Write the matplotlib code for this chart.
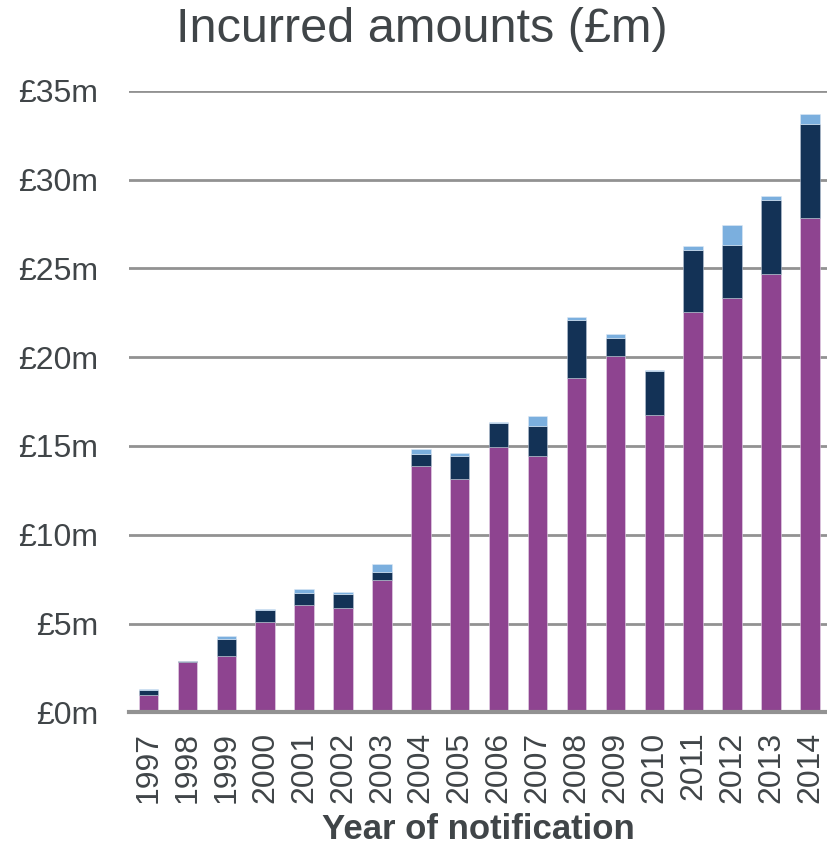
import matplotlib
matplotlib.use("Agg")
import matplotlib.pyplot as plt
import numpy as np

plt.rcParams['font.family'] = ['Liberation Sans', 'DejaVu Sans']

years = ['1997', '1998', '1999', '2000', '2001', '2002', '2003', '2004', '2005',
         '2006', '2007', '2008', '2009', '2010', '2011', '2012', '2013', '2014']
paid = [0.98, 2.85, 3.18, 5.11, 6.05, 5.90, 7.46, 13.86, 13.13,
        14.94, 14.42, 18.84, 20.07, 16.74, 22.55, 23.34, 24.70, 27.86]
outstanding = [0.28, 0.05, 0.97, 0.66, 0.66, 0.75, 0.44, 0.66, 1.31,
               1.37, 1.70, 3.27, 0.98, 2.47, 3.47, 2.96, 4.14, 5.26]
ibner = [0.04, 0.0, 0.15, 0.04, 0.21, 0.15, 0.46, 0.29, 0.15,
         0.06, 0.55, 0.15, 0.25, 0.08, 0.22, 1.15, 0.24, 0.58]
yticks = [0, 5, 10, 15, 20, 25, 30, 35]
ytick_labels = ['£0m', '£5m', '£10m', '£15m', '£20m', '£25m', '£30m', '£35m']

c_purple = '#8E4490'
c_navy = '#133256'
c_light = '#7BAFDE'
txt = '#404548'
grid = '#929292'

fig = plt.figure(figsize=(8.27, 8.46), dpi=100)
ax = fig.add_axes([129/827, (846-712.3)/846, 1 - 129/827, (712.3-90.7)/846])

x = np.arange(len(years))
w = 0.5
p = np.array(paid)
o = np.array(outstanding)
ib = np.array(ibner)
ax.bar(x, p, w, color=c_purple, edgecolor='#E8D8EA', linewidth=0.4, zorder=3)
ax.bar(x, o, w, bottom=p, color=c_navy, edgecolor='#B8C4D4', linewidth=0.4, zorder=3)
ax.bar(x, ib, w, bottom=p + o, color=c_light, edgecolor='#DDE9F5', linewidth=0.4, zorder=3)

ax.set_xlim(-0.5, 17.44)
ax.set_ylim(0, 35)
ax.set_yticks(yticks)
ax.set_yticklabels(ytick_labels)
ax.set_xticks(x)
ax.set_xticklabels(years, rotation=90)
ax.yaxis.grid(True, color=grid, linewidth=2, zorder=0)
ax.set_axisbelow(True)
for s in ['top', 'right', 'left']:
    ax.spines[s].set_visible(False)
ax.spines['bottom'].set_color(grid)
ax.spines['bottom'].set_linewidth(3)
ax.spines['bottom'].set_zorder(4)
ax.tick_params(axis='y', length=0, pad=22, labelsize=23, labelcolor=txt)
ax.tick_params(axis='x', length=0, pad=14, labelsize=23, labelcolor=txt)

fig.text(422/827, 1 - 30/846, 'Incurred amounts (£m)', ha='center', va='center',
         fontsize=35, color=txt)
ax.set_xlabel('Year of notification', fontsize=25, fontweight='bold', color=txt, labelpad=7)

fig.savefig('out.png', dpi=100)
